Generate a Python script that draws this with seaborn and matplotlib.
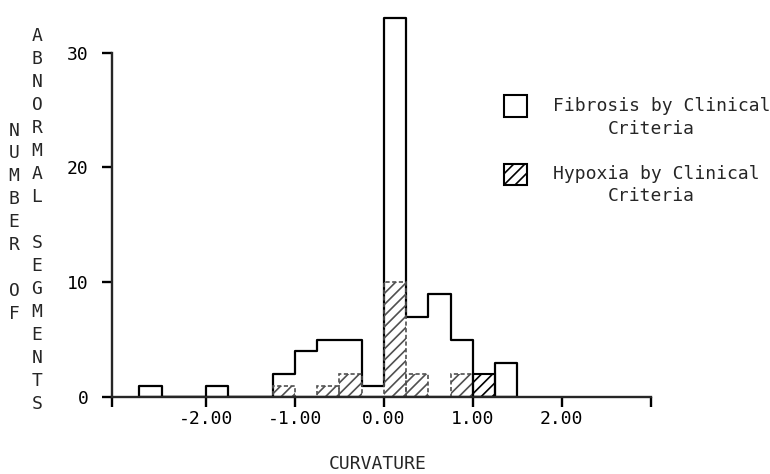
import numpy as np
import matplotlib
matplotlib.use("Agg")
import matplotlib.pyplot as plt
from matplotlib.patches import Rectangle
import seaborn as sns

# Histogram bins of curvature (width 0.25) and segment counts per bin
bin_edges = [-2.75, -2.5, -2.25, -2.0, -1.75, -1.5, -1.25, -1.0, -0.75,
             -0.5, -0.25, 0.0, 0.25, 0.5, 0.75, 1.0, 1.25, 1.5]
fibrosis_counts = [1, 0, 0, 1, 0, 0, 2, 4, 5, 5, 1, 33, 7, 9, 5, 0, 3]
hypoxia_counts = [0, 0, 0, 0, 0, 0, 1, 0, 1, 2, 0, 10, 2, 0, 2, 2, 0]

x_limits = [-3.06, 3.0]
x_ticks = [-2.0, -1.0, 0.0, 1.0, 2.0]
x_tick_labels = ["-2.00", "-1.00", "0.00", "1.00", "2.00"]
y_ticks = [0, 10, 20, 30]
y_tick_labels = ["0", "10", "20", "30"]

x_title = "CURVATURE"
y_title_columns = ["NUMBER OF", "ABNORMAL SEGMENTS"]
legend_lines = [("Fibrosis by Clinical", "Criteria"),
                ("Hypoxia by Clinical", "Criteria")]

sns.set_style("ticks")
plt.rcParams["font.family"] = ["DejaVu Sans Mono", "DejaVu Sans"]
plt.rcParams["hatch.linewidth"] = 1.2

W, H = 770, 474
FS = 13


def fx(px):
    return px / W


def fy(py):
    return 1 - py / H


edges = np.array(bin_edges)
centers = (edges[:-1] + edges[1:]) / 2
fib = np.array(fibrosis_counts, dtype=float)
hyp = np.array(hypoxia_counts, dtype=float)

# hypoxia bins drawn over a fibrosis bar vs. standing on their own
hyp_inside = np.where(fib > 0, hyp, 0)
hyp_alone = np.where(fib > 0, 0, hyp)

fig = plt.figure(figsize=(W / 100, H / 100), dpi=100)
ax = fig.add_axes([fx(111.7), fy(397), fx(650.7) - fx(111.7), 34.5 * 11.48 / H])

sns.histplot(x=centers, weights=fib, bins=list(bin_edges), element="step",
             fill=True, facecolor="white", edgecolor="black", linewidth=1.6,
             alpha=1, ax=ax, zorder=2)
sns.histplot(x=centers, weights=hyp_inside, bins=list(bin_edges), element="bars",
             fill=True, facecolor="none", edgecolor="#505050", linewidth=1.2,
             linestyle=(0, (2.5, 1.5)), hatch="///", alpha=1, ax=ax, zorder=3)
sns.histplot(x=centers, weights=hyp_alone, bins=list(bin_edges), element="bars",
             fill=True, facecolor="none", edgecolor="black", linewidth=1.5,
             hatch="///", alpha=1, ax=ax, zorder=3)

ax.set_xlim(*x_limits)
ax.set_ylim(0, 34.5)
ax.set_xlabel("")
ax.set_ylabel("")
sns.despine(ax=ax)
ax.spines["left"].set_bounds(0, 30)
for side in ("left", "bottom"):
    ax.spines[side].set_linewidth(1.7)
    ax.spines[side].set_zorder(4)

ax.set_xticks([x_limits[0]] + x_ticks + [x_limits[1]])
ax.set_xticklabels([""] + x_tick_labels + [""])
ax.set_yticks(y_ticks)
ax.set_yticklabels(y_tick_labels)
ax.tick_params(axis="both", direction="out", length=7.5, width=1.7,
               color="black", labelsize=FS, labelcolor="black")
ax.tick_params(axis="x", pad=2)
ax.tick_params(axis="y", pad=9)

cap = FS * 0.729 * 100 / 72  # cap height in pixels

# x-axis title
fig.text(fx(377.5), fy(462 + cap / 2), x_title, ha="center", va="baseline",
         fontsize=FS)

# stacked-letter y-axis title in two columns
for col_x, col_top, step, word in [(14, 129, 22.9, y_title_columns[0]),
                                   (37, 34, 23.05, y_title_columns[1])]:
    for i, ch in enumerate(word):
        if ch == " ":
            continue
        fig.text(fx(col_x), fy(col_top + i * step + cap / 2), ch,
                 ha="center", va="baseline", fontsize=FS)

# legend
fig.add_artist(Rectangle((fx(503.5), fy(117)), fx(23), 22 / H,
                         transform=fig.transFigure, facecolor="white",
                         edgecolor="black", linewidth=1.5))
fig.add_artist(Rectangle((fx(503.5), fy(185.5)), fx(23), 21 / H,
                         transform=fig.transFigure, facecolor="white",
                         edgecolor="black", linewidth=1.5, hatch="///"))
for (first, second), y1, y2 in zip(legend_lines, (104.5, 172.5), (127.5, 194.5)):
    fig.text(fx(553), fy(y1 + cap / 2), first, ha="left", va="baseline",
             fontsize=FS)
    fig.text(fx(608), fy(y2 + cap / 2), second, ha="left", va="baseline",
             fontsize=FS)

fig.savefig("out.png", dpi=100)
